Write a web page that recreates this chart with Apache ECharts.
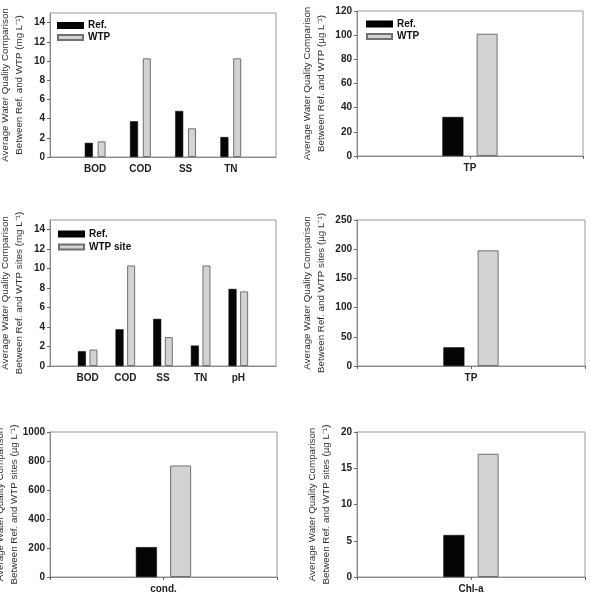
<!DOCTYPE html>
<html>
<head>
<meta charset="utf-8">
<script src="https://cdn.jsdelivr.net/npm/echarts@6/dist/echarts.min.js"></script>
<style>
  html, body { margin: 0; padding: 0; background: #fff; }
  #chart { width: 591px; height: 597px; }
</style>
</head>
<body>
<div id="chart"></div>
<script>
// panel 1: mg/L, Ref. vs WTP
const cat1 = ['BOD', 'COD', 'SS', 'TN'];
const ref1 = [1.47, 3.72, 4.79, 2.08];
const wtp1 = [1.63, 10.28, 2.99, 10.28];
// panel 2: TP (ug/L)
const cat2 = ['TP'];
const ref2 = [32.3];
const wtp2 = [101.2];
// panel 3: mg/L with pH, Ref. vs WTP site
const cat3 = ['BOD', 'COD', 'SS', 'TN', 'pH'];
const ref3 = [1.52, 3.77, 4.84, 2.1, 7.92];
const wtp3 = [1.69, 10.33, 2.97, 10.33, 7.67];
// panel 4: TP sites
const cat4 = ['TP'];
const ref4 = [32];
const wtp4 = [198];
// panel 5: conductivity
const cat5 = ['cond.'];
const ref5 = [206];
const wtp5 = [769];
// panel 6: chlorophyll-a
const cat6 = ['Chl-a'];
const ref6 = [5.79];
const wtp6 = [17.0];

// axis ranges / tick steps per panel
const yMax = [15, 120, 15, 250, 1000, 20];
const yStep = [2, 20, 2, 50, 200, 5];

const line1 = 'Average Water Quality Comparison';
const yTitles = [
  line1 + '\nBetween Ref. and WTP (mg L\u207B\u00B9)',
  line1 + '\nBetween Ref. and WTP (\u00B5g L\u207B\u00B9)',
  line1 + '\nBetween Ref. and WTP sites (mg L\u207B\u00B9)',
  line1 + '\nBetween Ref. and WTP sites (\u00B5g L\u207B\u00B9)',
  line1 + '\nBetween Ref. and WTP sites (\u00B5g L\u207B\u00B9)',
  line1 + '\nBetween Ref. and WTP sites (\u00B5g L\u207B\u00B9)'
];

const cats = [cat1, cat2, cat3, cat4, cat5, cat6];
const refs = [ref1, ref2, ref3, ref4, ref5, ref6];
const wtps = [wtp1, wtp2, wtp3, wtp4, wtp5, wtp6];
const wtpNames = ['WTP', 'WTP', 'WTP site', 'WTP site', 'WTP site', 'WTP site'];

const grids = [
  { left: 50, top: 13, width: 226, height: 144 },
  { left: 357, top: 11, width: 226, height: 145 },
  { left: 50, top: 220, width: 226, height: 146 },
  { left: 357, top: 220, width: 228, height: 146 },
  { left: 50, top: 432, width: 227, height: 145 },
  { left: 357, top: 432, width: 228, height: 145 }
];
const nameGaps = [23.5, 29, 23.5, 29, 29, 24];
const barW = [8, 21, 8, 21, 21, 21];
const barGaps = ['60%', '63%', '45%', '63%', '63%', '63%'];

const FONT = '"Liberation Sans", Arial, sans-serif';
const axisGray = '#8a8a8a';

const pad = arr => [''].concat(arr, ['']);
const padV = arr => [null].concat(arr, [null]);

var myChart = echarts.init(document.getElementById('chart'), null, { renderer: 'canvas' });

var xAxes = [], yAxes = [], series = [];
for (let i = 0; i < 6; i++) {
  xAxes.push({
    type: 'category',
    gridIndex: i,
    data: pad(cats[i]),
    boundaryGap: false,
    axisLine: { lineStyle: { color: axisGray } },
    axisTick: { show: cats[i].length === 1, length: 3, lineStyle: { color: '#666' } },
    axisLabel: { margin: 7, fontFamily: FONT, fontWeight: 'bold', fontSize: 10, color: '#222', interval: 0 },
    splitLine: { show: false }
  });
  yAxes.push({
    type: 'value',
    gridIndex: i,
    min: 0,
    max: yMax[i],
    interval: yStep[i],
    name: yTitles[i],
    nameLocation: 'middle',
    nameRotate: 90,
    nameGap: nameGaps[i],
    nameMoveOverlap: false,
    nameTextStyle: { fontFamily: FONT, fontSize: 9.8, color: '#333', lineHeight: 14 },
    axisLine: { show: true, lineStyle: { color: axisGray } },
    axisTick: { show: true, length: 3, lineStyle: { color: '#666' } },
    axisLabel: {
      margin: 5,
      showMaxLabel: yMax[i] % yStep[i] === 0,
      formatter: v => String(v),
      fontFamily: FONT, fontWeight: 'bold', fontSize: 10, color: '#222'
    },
    splitLine: { show: false }
  });
  series.push({
    name: 'Ref.',
    type: 'bar',
    xAxisIndex: i,
    yAxisIndex: i,
    data: padV(refs[i]),
    barWidth: barW[i],
    barGap: barGaps[i],
    itemStyle: { color: '#050505', borderColor: '#000', borderWidth: 0.5 }
  });
  series.push({
    name: wtpNames[i],
    type: 'bar',
    xAxisIndex: i,
    yAxisIndex: i,
    data: padV(wtps[i]),
    barWidth: barW[i],
    barGap: barGaps[i],
    itemStyle: { color: '#d3d3d3', borderColor: '#707070', borderWidth: 1 }
  });
}

const legendText = { fontFamily: FONT, fontWeight: 'bold', fontSize: 10, color: '#111' };
const legendBase = { orient: 'vertical', icon: 'rect', itemWidth: 25, itemHeight: 5, padding: 0, textStyle: legendText, selectedMode: false };
var option = {
  animation: false,
  backgroundColor: '#fff',
  grid: grids.map(g => Object.assign({
    show: true, borderColor: '#999', borderWidth: 1, backgroundColor: 'transparent',
    containLabel: false, outerBoundsMode: 'none'
  }, g)),
  legend: [
    Object.assign({ data: ['Ref.', 'WTP'], left: 57, top: 20.5, itemGap: 2 }, legendBase),
    Object.assign({ data: ['Ref.', 'WTP'], left: 366, top: 19, itemGap: 2.5 }, legendBase),
    Object.assign({ data: ['Ref.', 'WTP site'], left: 58, top: 229, itemGap: 3 }, legendBase)
  ],
  xAxis: xAxes,
  yAxis: yAxes,
  series: series
};

myChart.setOption(option);
window.addEventListener('resize', function () {
  myChart.resize();
});
</script>
</body>
</html>
